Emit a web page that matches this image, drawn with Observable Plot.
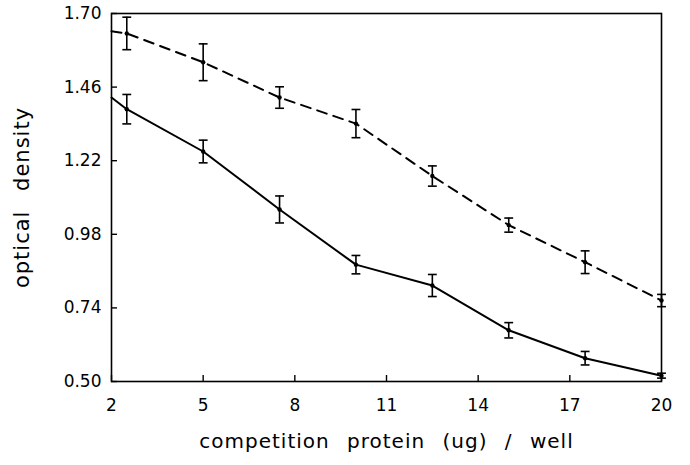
<!DOCTYPE html>
<html>
<head>
<meta charset="utf-8">
<script src="https://cdn.jsdelivr.net/npm/d3@7"></script>
<script src="https://cdn.jsdelivr.net/npm/@observablehq/plot@0.6"></script>
<style>
  html, body { margin: 0; padding: 0; background: #fff; }
  #chart svg { display: block; }
</style>
</head>
<body>
<div id="chart"></div>
<script>
// ---- data ----
const xTicks = [2, 5, 8, 11, 14, 17, 20];
const yTicks = [0.50, 0.74, 0.98, 1.22, 1.46, 1.70];
const xLabel = "competition protein (ug) / well";
const yLabel = "optical density";

const doses = [2.5, 5, 7.5, 10, 12.5, 15, 17.5, 20];
const dashedOD  = [1.635, 1.541, 1.426, 1.341, 1.170, 1.010, 0.889, 0.764];
const dashedErr = [0.053, 0.060, 0.035, 0.046, 0.033, 0.023, 0.037, 0.020];
const solidOD   = [1.388, 1.250, 1.061, 0.881, 0.813, 0.667, 0.576, 0.519];
const solidErr  = [0.048, 0.037, 0.044, 0.030, 0.036, 0.025, 0.022, 0.008];
// line start at the left axis (no error bar there)
const startDose = 2;
const dashedStart = 1.642;
const solidStart = 1.426;

// ---- tables ----
const dashedPts = doses.map((x, i) => ({x, y: dashedOD[i], lo: dashedOD[i] - dashedErr[i], hi: dashedOD[i] + dashedErr[i]}));
const solidPts  = doses.map((x, i) => ({x, y: solidOD[i],  lo: solidOD[i] - solidErr[i],  hi: solidOD[i] + solidErr[i]}));
const dashedLine = [{x: startDose, y: dashedStart}, ...dashedPts];
const solidLine  = [{x: startDose, y: solidStart}, ...solidPts];
const allPts = [...dashedPts, ...solidPts];

// horizontal cap symbol for error bars
const capSymbol = {
  draw(context, size) {
    const w = Math.sqrt(size) / 2;
    context.moveTo(-w, 0);
    context.lineTo(w, 0);
  }
};

const chart = Plot.plot({
  width: 690,
  height: 465,
  marginLeft: 111,
  marginRight: 29,
  marginTop: 13,
  marginBottom: 84,
  style: {fontFamily: "DejaVu Sans", fontSize: "17px", color: "#000", background: "#fff"},
  x: {domain: [2, 20]},
  y: {domain: [0.50, 1.70]},
  marks: [
    Plot.frame({stroke: "#000", strokeWidth: 1.6}),
    Plot.axisX({ticks: xTicks, tickSize: -6, tickPadding: 23, fontSize: 17, label: null, tickFormat: d3.format("d"), strokeWidth: 1.4}),
    Plot.axisY({ticks: yTicks, tickSize: -6, tickPadding: 16, fontSize: 17, label: null, tickFormat: d3.format(".2f"), strokeWidth: 1.4}),
    Plot.line(dashedLine, {x: "x", y: "y", stroke: "#000", strokeWidth: 2, strokeDasharray: "10,7"}),
    Plot.line(solidLine, {x: "x", y: "y", stroke: "#000", strokeWidth: 2}),
    Plot.ruleX(allPts, {x: "x", y1: "lo", y2: "hi", stroke: "#000", strokeWidth: 1.6}),
    Plot.dot(allPts, {x: "x", y: "lo", symbol: capSymbol, r: 5, stroke: "#000", strokeWidth: 1.6, fill: "none"}),
    Plot.dot(allPts, {x: "x", y: "hi", symbol: capSymbol, r: 5, stroke: "#000", strokeWidth: 1.6, fill: "none"}),
    Plot.dot(allPts, {x: "x", y: "y", r: 2.2, fill: "#000", stroke: "none"}),
    Plot.text([xLabel], {frameAnchor: "bottom", dy: 66, fontSize: 20, fill: "#000", text: d => d}),
    Plot.text([yLabel], {frameAnchor: "left", textAnchor: "middle", dx: -89, dy: 0, rotate: -90, fontSize: 21, fill: "#000", text: d => d})
  ]
});
// wider letter and word spacing like the original typeface
d3.select(chart).selectAll("text").filter(function() { return this.textContent === xLabel; })
  .style("letter-spacing", "1px").style("word-spacing", "10px");
d3.select(chart).selectAll("text").filter(function() { return this.textContent === yLabel; })
  .style("letter-spacing", "1px").style("word-spacing", "12px");
document.getElementById("chart").appendChild(chart);
</script>
</body>
</html>
